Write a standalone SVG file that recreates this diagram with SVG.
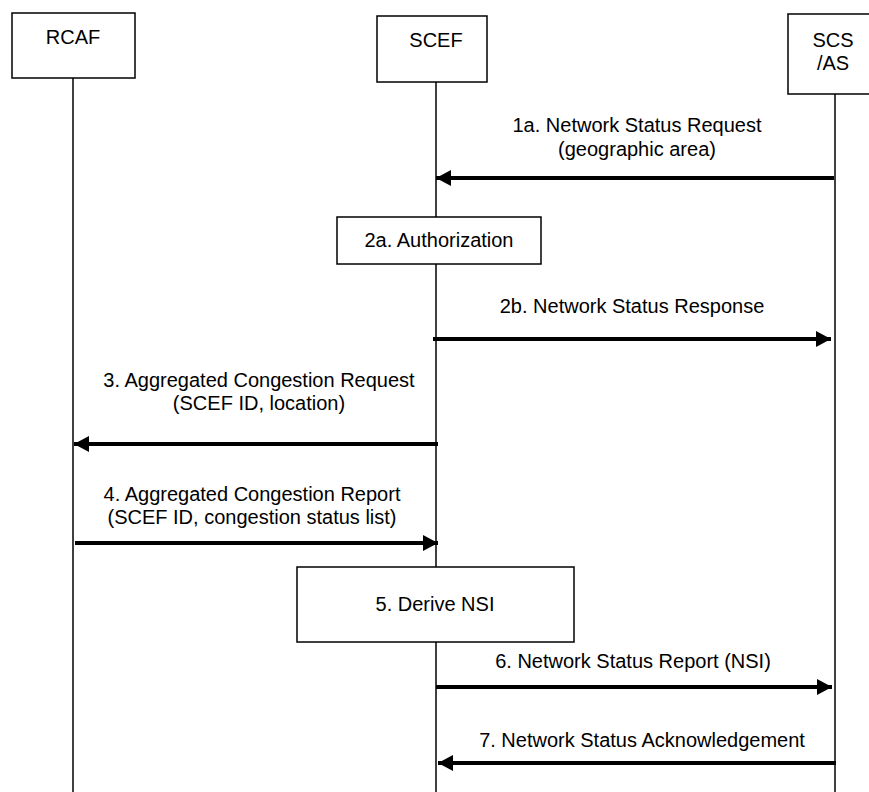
<svg xmlns="http://www.w3.org/2000/svg" width="869" height="792" viewBox="0 0 869 792">
<style>
.box{fill:#fff;stroke:#000;stroke-width:1.5}
.life{stroke:#000;stroke-width:1.5;fill:none}
.msg{stroke:#000;stroke-width:4;fill:none;marker-end:url(#ah)}
text{font-family:"Liberation Sans",Arial,sans-serif;font-size:20px;fill:#000;text-anchor:middle}
</style>
<defs>
<marker id="ah" markerUnits="userSpaceOnUse" markerWidth="16" markerHeight="16" refX="15" refY="8" orient="auto">
<path d="M0,0 L15,8 L0,16 z" fill="#000"/>
</marker>
</defs>
<rect width="869" height="792" fill="#fff"/>
<g id="lifelines">
<line class="life" x1="73" y1="78" x2="73" y2="792"/>
<line class="life" x1="436" y1="82" x2="436" y2="792"/>
<line class="life" x1="835" y1="94" x2="835" y2="792"/>
</g>
<g id="RCAF">
<rect class="box" x="12" y="13" width="123" height="65"/>
<text x="73" y="44">RCAF</text>
</g>
<g id="SCEF">
<rect class="box" x="377" y="16" width="110" height="66"/>
<text x="436" y="47">SCEF</text>
</g>
<g id="SCSAS">
<rect class="box" x="788" y="14" width="90" height="80"/>
<text x="833" y="47">SCS</text>
<text x="833" y="70">/AS</text>
</g>
<g id="auth">
<rect class="box" x="337" y="217" width="204" height="47"/>
<text x="439" y="247">2a. Authorization</text>
</g>
<g id="derive">
<rect class="box" x="297" y="567" width="277" height="75"/>
<text x="435" y="611">5. Derive NSI</text>
</g>
<g id="connectors">
<line class="msg" x1="834" y1="178" x2="436" y2="178"/>
<line class="msg" x1="433" y1="339" x2="831" y2="339"/>
<line class="msg" x1="438" y1="444" x2="74" y2="444"/>
<line class="msg" x1="75" y1="543" x2="438" y2="543"/>
<line class="msg" x1="436" y1="687" x2="832" y2="687"/>
<line class="msg" x1="836" y1="763" x2="438" y2="763"/>
</g>
<g id="labels">
<text x="637" y="132">1a. Network Status Request</text>
<text x="637" y="156">(geographic area)</text>
<text x="632" y="313">2b. Network Status Response</text>
<text x="259" y="387">3. Aggregated Congestion Request</text>
<text x="259" y="410">(SCEF ID, location)</text>
<text x="252" y="501">4. Aggregated Congestion Report</text>
<text x="252" y="524">(SCEF ID, congestion status list)</text>
<text x="633" y="668">6. Network Status Report (NSI)</text>
<text x="642" y="747">7. Network Status Acknowledgement</text>
</g>
</svg>
